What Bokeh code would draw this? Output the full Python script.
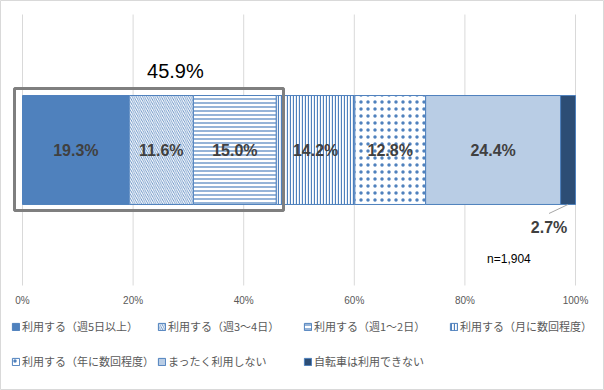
import numpy as np
from bokeh.plotting import figure
from bokeh.models import Range1d, Legend, LegendItem, BoxAnnotation
from bokeh.core.properties import value
from bokeh.embed import file_html
from bokeh.resources import INLINE

# ---- data ----
categories = ["利用する（週5日以上）", "利用する（週3～4日）", "利用する（週1～2日）",
              "利用する（月に数回程度）", "利用する（年に数回程度）", "まったく利用しない",
              "自転車は利用できない"]
shares = [19.3, 11.6, 15.0, 14.2, 12.8, 24.4, 2.7]
tick_values = [0, 20, 40, 60, 80, 100]
tick_labels = ["0%", "20%", "40%", "60%", "80%", "100%"]
sample_note = "n=1,904"
highlight_count = 3

# ---- styles ----
BLUE = "#4F81BD"
fills = [BLUE, "white", "white", "white", "white", "#B9CDE5", "#2C4D75"]
hatches = [None, "\\", "-", "|", ".", None, None]
hatch_scales = [12, 4.2, 4, 3, 7, 12, 12]
hatch_weights = [1, 0.8, 1.2, 1.3, 0.3, 1, 1]

W, H = 604, 390
# plot area (gridline extent) in pixels
PL, PR, PT, PB = 22, 575, 14, 285
px_x = 100.0 / (PR - PL)
px_y = 10.0 / (PB - PT)

p = figure(width=W, height=H, output_backend="svg", toolbar_location=None,
           x_range=Range1d(-PL * px_x, 100 + (W - PR) * px_x),
           y_range=Range1d(-(H - PB) * px_y, 10 + PT * px_y),
           x_axis_location=None, y_axis_location=None,
           min_border=0)
p.outline_line_color = "#D9D9D9"
p.outline_line_width = 1
p.grid.visible = False

# gridlines and tick labels from tick arrays
p.segment(x0=tick_values, y0=[0] * len(tick_values), x1=tick_values, y1=[10] * len(tick_values),
          line_color="#D9D9D9", line_width=1)
p.text(x=tick_values, y=[0] * len(tick_values), text=tick_labels, y_offset=15,
       text_align="center", text_baseline="middle", text_font=value("Liberation Sans"),
       text_font_size="10px", text_color="#595959")

Y = 5.0
BH = 4.02
rights = np.cumsum(shares)
lefts = rights - np.array(shares)
mids = (lefts + rights) / 2

renderers = []
for i in range(len(shares)):
    kw = {}
    if hatches[i]:
        kw = dict(hatch_pattern=hatches[i], hatch_color=BLUE, hatch_scale=hatch_scales[i],
                  hatch_weight=hatch_weights[i])
    r = p.hbar(y=[Y], left=[lefts[i]], right=[rights[i]], height=BH,
               fill_color=fills[i], line_color=BLUE, line_width=1, **kw)
    renderers.append(r)

# value labels inside bars
n_in = len(shares) - 1
p.text(x=list(mids[:n_in]), y=[Y] * n_in, text=[f"{v:.1f}%" for v in shares[:n_in]],
       text_align="center", text_baseline="middle", text_font=value("Liberation Sans"),
       text_font_style="bold", text_font_size="16px", text_color="#404040")

# last value label outside with leader line
bot = Y - BH / 2
p.segment(x0=[mids[-1]], y0=[bot], x1=[mids[-1] - 19 * px_x], y1=[bot - 9 * px_y],
          line_color="#A6A6A6", line_width=1)
p.text(x=[mids[-1]], y=[bot], text=[f"{shares[-1]:.1f}%"], x_offset=-19, y_offset=23,
       text_align="center", text_baseline="middle", text_font=value("Liberation Sans"),
       text_font_style="bold", text_font_size="16px", text_color="#404040")

# highlight box for first three
hl_total = float(sum(shares[:highlight_count]))
box = BoxAnnotation(left=0 - 1.45, right=rights[highlight_count - 1] + 1.3,
                    top=Y + BH / 2 + 7 * px_y, bottom=Y - BH / 2 - 6 * px_y,
                    fill_alpha=0, line_color="#7F7F7F", line_alpha=1, line_width=3)
p.add_layout(box)
p.text(x=[hl_total / 2], y=[Y + BH / 2 + 7 * px_y], text=[f"{hl_total:.1f}%"],
       x_offset=26, y_offset=-18, text_align="center", text_baseline="middle",
       text_font=value("Liberation Sans"), text_font_size="20px", text_color="black")

# sample size
p.text(x=[84], y=[0.96], text=[sample_note], text_align="left", text_baseline="middle",
       text_font=value("Liberation Sans"), text_font_size="12px", text_color="black")

# legends
def make_legend(idx, vy):
    lg = Legend(items=[LegendItem(label=categories[i], renderers=[renderers[i]]) for i in idx],
                orientation="horizontal", location=(11, vy), padding=0, margin=0, spacing=0,
                glyph_width=9, glyph_height=9, label_standoff=2, label_width=135,
                label_height=13, border_line_color=None, background_fill_alpha=0,
                label_text_font="Noto Sans CJK JP", label_text_font_size="11px",
                label_text_color="#595959")
    p.add_layout(lg, "center")
    return lg

make_legend([0, 1, 2, 3], 56)
make_legend([4, 5, 6], 21)

open("out.html", "w").write(file_html(p, INLINE))
